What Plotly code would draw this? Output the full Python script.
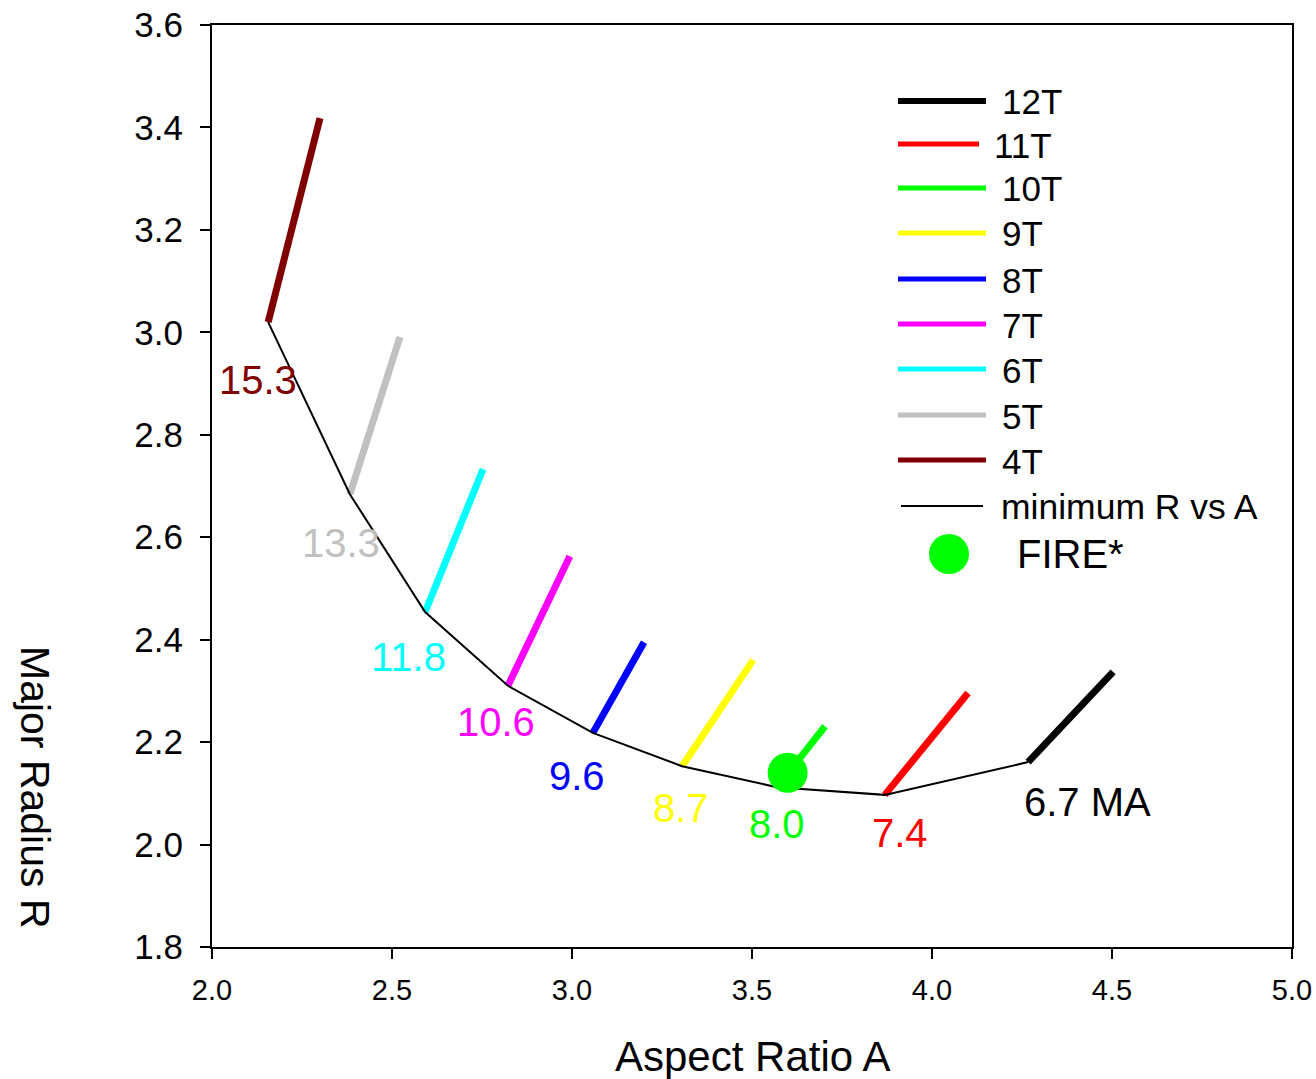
import plotly.graph_objects as go

# Toroidal field strength of each scan (T) and its colour
field_T = [4, 5, 6, 7, 8, 9, 10, 11, 12]
colors = ["#800000", "#C0C0C0", "#00FFFF", "#FF00FF", "#0000FF",
          "#FFFF00", "#00FF00", "#FF0000", "#000000"]

# Each scan: aspect ratio / major radius at the minimum-R end and at the far end
a_start = [2.156, 2.383, 2.592, 2.822, 3.058, 3.306, 3.569, 3.869, 4.267]
r_start = [3.020, 2.684, 2.454, 2.310, 2.218, 2.153, 2.112, 2.097, 2.161]
a_end = [2.300, 2.522, 2.753, 2.994, 3.200, 3.503, 3.703, 4.100, 4.503]
r_end = [3.418, 2.991, 2.733, 2.563, 2.395, 2.360, 2.231, 2.296, 2.337]

# Plasma current at the minimum-R point (MA)
current_ma = ["15.3", "13.3", "11.8", "10.6", "9.6", "8.7", "8.0", "7.4", "6.7 MA"]

# FIRE* design point
fire_a = [3.599]
fire_r = [2.140]

FONT = "Liberation Sans, Arial, sans-serif"

# plot-area geometry in page pixels
L, R, T, B = 212, 1292, 25, 947
W, H = 1316, 1079


def px_x(x):
    return (x - L) / (R - L)


def px_y(y):
    return (B - y) / (B - T)


fig = go.Figure()

for i, t in enumerate(field_T):
    fig.add_trace(go.Scatter(
        x=[a_start[i], a_end[i]], y=[r_start[i], r_end[i]],
        mode="lines", line=dict(color=colors[i], width=7),
        name=f"{t}T", showlegend=False, hoverinfo="skip"))

fig.add_trace(go.Scatter(
    x=a_start, y=r_start, mode="lines",
    line=dict(color="black", width=2),
    name="minimum R vs A", showlegend=False))

fig.add_trace(go.Scatter(
    x=fire_a, y=fire_r, mode="markers",
    marker=dict(color="#00FF00", size=40, line=dict(width=0)),
    name="FIRE*", showlegend=False))

annotations = []

# current labels beside each minimum-R point (pixel offsets)
label_dx = [-10, -9, -17, -12, -16, -1, 0, 15, 59]
label_dy = [58, 49, 45, 36, 43, 42, 37, 38, 40]
for i in range(len(field_T)):
    annotations.append(dict(
        x=a_start[i], y=r_start[i], xref="x", yref="y",
        text=current_ma[i], showarrow=False,
        xshift=label_dx[i], yshift=-label_dy[i],
        xanchor="center", yanchor="middle",
        font=dict(family=FONT, size=40, color=colors[i])))

# hand-built legend in the upper right
shapes = []
legend_rows = [101, 144, 188, 233, 279, 324, 369, 415, 460]
for k, i in enumerate(reversed(range(len(field_T)))):
    y = legend_rows[k]
    x1 = 979 if field_T[i] == 11 else 986
    tx = 992 if field_T[i] == 11 else 1000
    shapes.append(dict(type="line", xref="paper", yref="paper",
                       x0=px_x(898), x1=px_x(x1), y0=px_y(y), y1=px_y(y),
                       line=dict(color=colors[i], width=6 if field_T[i] == 12 else 5)))
    annotations.append(dict(x=px_x(tx), y=px_y(y + 1), xref="paper", yref="paper",
                            text=f"{field_T[i]}T", showarrow=False,
                            xanchor="left", yanchor="middle",
                            font=dict(family=FONT, size=35, color="black")))

shapes.append(dict(type="line", xref="paper", yref="paper",
                   x0=px_x(901), x1=px_x(983), y0=px_y(506), y1=px_y(506),
                   line=dict(color="black", width=2)))
annotations.append(dict(x=px_x(999), y=px_y(507), xref="paper", yref="paper",
                        text="minimum R vs A", showarrow=False,
                        xanchor="left", yanchor="middle",
                        font=dict(family=FONT, size=35.5, color="black")))
shapes.append(dict(type="circle", xref="paper", yref="paper",
                   x0=px_x(929), x1=px_x(969), y0=px_y(534), y1=px_y(574),
                   fillcolor="#00FF00", line=dict(width=0)))
annotations.append(dict(x=px_x(1015), y=px_y(554), xref="paper", yref="paper",
                        text="FIRE*", showarrow=False,
                        xanchor="left", yanchor="middle",
                        font=dict(family=FONT, size=40, color="black")))

# axis titles
annotations.append(dict(x=px_x(752), y=px_y(1056), xref="paper", yref="paper",
                        text="Aspect Ratio A", showarrow=False,
                        xanchor="center", yanchor="middle",
                        font=dict(family=FONT, size=42, color="black")))
annotations.append(dict(x=px_x(35), y=px_y(787), xref="paper", yref="paper",
                        text="Major Radius R", showarrow=False, textangle=90,
                        xanchor="center", yanchor="middle",
                        font=dict(family=FONT, size=41, color="black")))

fig.update_layout(
    width=W, height=H,
    margin=dict(l=L, r=W - R, t=T, b=H - B, pad=0, autoexpand=False),
    plot_bgcolor="white", paper_bgcolor="white",
    showlegend=False,
    shapes=shapes, annotations=annotations,
    font=dict(family=FONT, color="black"),
)
fig.update_xaxes(
    range=[2.0, 5.0], dtick=0.5, tick0=2.0, tickformat=".1f",
    showgrid=False, zeroline=False, automargin=False,
    showline=True, linecolor="black", linewidth=2, mirror=True,
    ticks="outside", ticklen=10, tickwidth=1.5, tickcolor="black",
    ticklabelstandoff=6,
    tickfont=dict(family=FONT, size=29, color="black"),
)
fig.update_yaxes(
    range=[1.8, 3.6], dtick=0.2, tick0=1.8, tickformat=".1f",
    showgrid=False, zeroline=False, automargin=False,
    showline=True, linecolor="black", linewidth=2, mirror=True,
    ticks="outside", ticklen=10, tickwidth=1.5, tickcolor="black",
    ticklabelstandoff=10,
    tickfont=dict(family=FONT, size=35, color="black"),
)

fig.write_html("out.html")
